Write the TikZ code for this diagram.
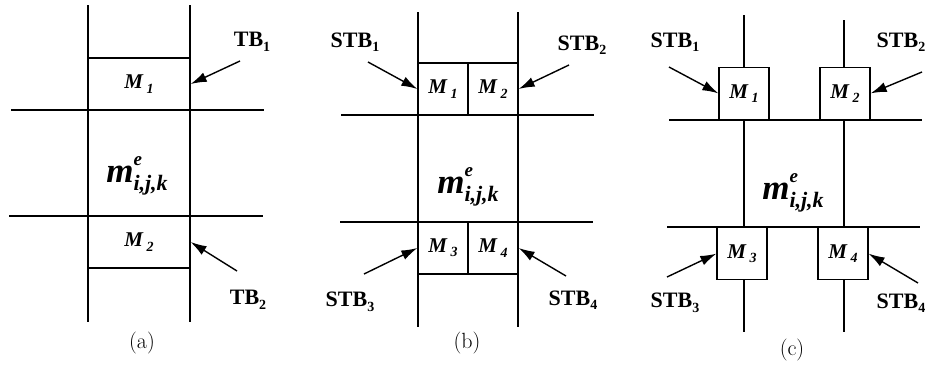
\documentclass[tikz,border=0pt]{standalone}
\usepackage{fontspec}
\newfontfamily\tnr{Liberation Serif}
\usetikzlibrary{arrows.meta}

\newcommand{\lowidx}[1]{\raisebox{-0.45ex}{\fontsize{14}{15}\selectfont #1}}
\newcommand{\modname}[1]{M\,\lowidx{#1}}
\newcommand{\elemname}{m\rlap{\raisebox{1.05ex}{\fontsize{19}{20}\selectfont e}}\raisebox{-0.55ex}{\fontsize{22}{23}\selectfont i,j,k}}
\newcommand{\tbname}[2]{#1\lowidx{#2}}

\begin{document}
\begin{tikzpicture}[
    x=1pt, y=-1pt,
    grid/.style={line width=1.3pt},
    cell/.style={
      draw,
      line width=1.3pt,
      fill=white,
      minimum width=50pt,
      minimum height=52pt,
      inner sep=0pt,
      font=\tnr\bfseries\itshape\fontsize{21}{23}\selectfont
    },
    elem/.style={font=\tnr\bfseries\itshape\fontsize{35}{38}\selectfont, inner sep=0pt},
    tag/.style={font=\tnr\bfseries\fontsize{22}{26}\selectfont, inner sep=0pt},
    pointer/.style={line width=1.4pt, -{Latex[length=16pt,width=10pt]}},
    caption/.style={font=\fontsize{22}{26}\selectfont, inner sep=0pt}
  ]
  \useasboundingbox (0,0) rectangle (931,375);

  % (a) two transition blocks
  \draw[grid] (88,5) -- (88,322);
  \draw[grid] (190,5) -- (190,322);
  \draw[grid] (11,110) -- (264,110);
  \draw[grid] (9,216) -- (263,216);
  \node[cell,minimum width=102pt] (a1) at (139,84) {\modname{1}};
  \node[cell,minimum width=102pt] (a2) at (139,242) {\modname{2}};
  \node[elem] (ae) at (137,176) {\elemname};
  \node[tag] (atb1) at (252,42) {\tbname{TB}{1}};
  \node[tag] (atb2) at (248,300) {\tbname{TB}{2}};
  \coordinate (atb1t) at (240,61);
  \coordinate (atb2t) at (237,271);
  \draw[pointer] (atb1t) -- (a1.east);
  \draw[pointer] (atb2t) -- (a2.east);
  \node[caption] (acap) at (142,343) {(a)};

  % (b) four sub-blocks in the strip
  \draw[grid] (418,12) -- (418,327);
  \draw[grid] (518,12) -- (518,327);
  \draw[grid] (341,115) -- (594,115);
  \draw[grid] (340,222) -- (593,222);
  \node[cell] (b1) at (443,89) {\modname{1}};
  \node[cell] (b2) at (493,89) {\modname{2}};
  \node[cell] (b3) at (443,248) {\modname{3}};
  \node[cell] (b4) at (493,248) {\modname{4}};
  \node[elem] (be) at (468,187) {\elemname};
  \node[tag] (bs1) at (355,42) {\tbname{STB}{1}};
  \node[tag] (bs2) at (582,45) {\tbname{STB}{2}};
  \node[tag] (bs3) at (350,302) {\tbname{STB}{3}};
  \node[tag] (bs4) at (573,300) {\tbname{STB}{4}};
  \coordinate (bs1t) at (368,62);
  \coordinate (bs2t) at (569,65);
  \coordinate (bs3t) at (364,274);
  \coordinate (bs4t) at (566,276);
  \draw[pointer] (bs1t) -- (b1.west);
  \draw[pointer] (bs2t) -- (b2.east);
  \draw[pointer] (bs3t) -- (b3.west);
  \draw[pointer] (bs4t) -- (b4.east);
  \node[caption] (bcap) at (467,343) {(b)};

  % (c) sub-blocks at the corners
  \draw[grid] (744,15) -- (744,332);
  \draw[grid] (844,20) -- (844,332);
  \draw[grid] (669,120) -- (922,120);
  \draw[grid] (667,227) -- (920,227);
  \node[cell,anchor=south] (c1) at (744,120) {\modname{1}};
  \node[cell,anchor=south] (c2) at (845,120) {\modname{2}};
  \node[cell,anchor=north] (c3) at (742,227) {\modname{3}};
  \node[cell,anchor=north] (c4) at (843,227) {\modname{4}};
  \node[elem] (ce) at (793,193) {\elemname};
  \node[tag] (cs1) at (675,42) {\tbname{STB}{1}};
  \node[tag] (cs2) at (901,42) {\tbname{STB}{2}};
  \node[tag] (cs3) at (675,303) {\tbname{STB}{3}};
  \node[tag] (cs4) at (901,303) {\tbname{STB}{4}};
  \coordinate (cs1t) at (669,67);
  \coordinate (cs2t) at (922,72);
  \coordinate (cs3t) at (667,277);
  \coordinate (cs4t) at (918,283);
  \draw[pointer] (cs1t) -- (c1.west);
  \draw[pointer] (cs2t) -- (c2.east);
  \draw[pointer] (cs3t) -- (c3.west);
  \draw[pointer] (cs4t) -- (c4.east);
  \node[caption] (ccap) at (792,350) {(c)};
\end{tikzpicture}
\end{document}
